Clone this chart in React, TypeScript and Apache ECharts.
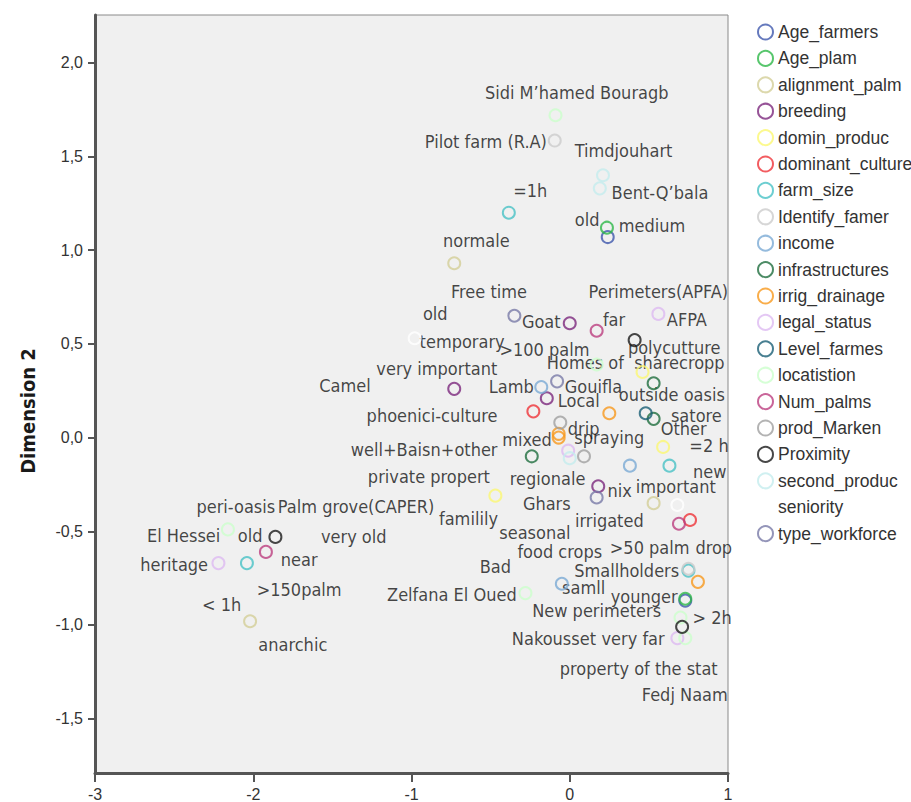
import React, { useEffect, useRef } from "react";
import * as echarts from "echarts";

const seriesNames = [
  "Age_farmers", "Age_plam", "alignment_palm", "breeding", "domin_produc",
  "dominant_culture", "farm_size", "Identify_famer", "income", "infrastructures",
  "irrig_drainage", "legal_status", "Level_farmes", "locatistion", "Num_palms",
  "prod_Marken", "Proximity", "second_produc", "seniority", "type_workforce",
];

const seriesColors = [
  "#3E58AC", "#2EB848", "#D3CE97", "#7C287D", "#FBF873",
  "#EF3338", "#48C2C5", "#CCCCCC", "#7AAAD5", "#1F6E3E",
  "#F8981D", "#DDBAF1", "#1A5F76", "#CCFFCC", "#BB3F7F",
  "#A0A0A0", "#1A1A1A", "#C4ECEE", "#FFFFFF", "#797AA7",
];

const ageFarmers = [[0.24, 1.07], [0.73, -0.87]];
const agePlam = [[0.235, 1.12], [0.73, -0.86]];
const alignmentPalm = [[-0.73, 0.93], [0.53, -0.35], [-2.02, -0.98]];
const breeding = [[0.0, 0.61], [-0.73, 0.26], [-0.145, 0.21], [0.18, -0.26]];
const dominProduc = [[0.46, 0.35], [0.59, -0.05], [-0.47, -0.31]];
const dominantCulture = [[-0.23, 0.14], [0.76, -0.44]];
const farmSize = [[-0.385, 1.2], [0.63, -0.15], [-2.04, -0.67], [0.75, -0.71]];
const identifyFamer = [[-0.095, 1.585], [0.75, -0.7]];
const income = [[-0.18, 0.27], [0.38, -0.15], [-0.05, -0.78]];
const infrastructures = [[0.53, 0.29], [0.53, 0.1], [-0.24, -0.1]];
const irrigDrainage = [[0.25, 0.13], [-0.07, 0.02], [-0.07, 0.0], [0.81, -0.77]];
const legalStatus = [[0.56, 0.66], [-0.01, -0.07], [-2.22, -0.67], [0.68, -1.07]];
const levelFarmes = [[0.48, 0.13]];
const locatistion = [[-0.09, 1.72], [0.17, 0.39], [-2.16, -0.49], [-0.28, -0.83], [0.7, -0.96], [0.73, -1.07]];
const numPalms = [[0.17, 0.57], [-1.92, -0.61], [0.69, -0.46]];
const prodMarken = [[-0.06, 0.08], [0.09, -0.1]];
const proximity = [[0.41, 0.52], [-1.86, -0.53], [0.71, -1.01]];
const secondProduc = [[0.21, 1.4], [0.19, 1.33], [0.0, -0.11]];
const seniority = [[-0.98, 0.53], [0.68, -0.36]];
const typeWorkforce = [[-0.35, 0.65], [-0.08, 0.3], [0.17, -0.32]];

const pointSets = [
  ageFarmers, agePlam, alignmentPalm, breeding, dominProduc,
  dominantCulture, farmSize, identifyFamer, income, infrastructures,
  irrigDrainage, legalStatus, levelFarmes, locatistion, numPalms,
  prodMarken, proximity, secondProduc, seniority, typeWorkforce,
];

// category label texts with their anchor (centre) in dimension units
const pointLabels: [string, number, number][] = [
  ["Sidi M\u2019hamed Bouragb", 0.044, 1.84],
  ["Pilot farm (R.A)", -0.53, 1.58],
  ["Timdjouhart", 0.34, 1.53],
  ["=1h", -0.25, 1.32],
  ["Bent-Q\u2019bala", 0.57, 1.31],
  ["old", 0.11, 1.165],
  ["medium", 0.52, 1.13],
  ["normale", -0.59, 1.05],
  ["Free time", -0.51, 0.78],
  ["Perimeters(APFA)", 0.56, 0.78],
  ["old", -0.85, 0.66],
  ["Goat", -0.18, 0.62],
  ["far", 0.28, 0.63],
  ["AFPA", 0.74, 0.63],
  ["temporary", -0.68, 0.51],
  [">100 palm", -0.16, 0.47],
  ["polycutture", 0.66, 0.48],
  ["Homes of  sharecropp", 0.417, 0.4],
  ["very important", -0.84, 0.37],
  ["Camel", -1.42, 0.28],
  ["Lamb", -0.37, 0.27],
  ["Gouifla", 0.15, 0.27],
  ["Local", 0.057, 0.2],
  ["outside oasis", 0.645, 0.23],
  ["phoenici-culture", -0.87, 0.12],
  ["satore", 0.8, 0.12],
  ["drip", 0.088, 0.05],
  ["Other", 0.72, 0.05],
  ["mixed", -0.27, -0.01],
  ["spraying", 0.25, 0.0],
  ["=2 h", 0.88, -0.04],
  ["well+Baisn+other", -0.92, -0.064],
  ["new", 0.885, -0.18],
  ["private propert", -0.89, -0.21],
  ["regionale", -0.14, -0.22],
  ["nix", 0.316, -0.28],
  ["important", 0.67, -0.26],
  ["peri-oasis", -2.11, -0.37],
  ["Palm grove(CAPER)", -1.35, -0.37],
  ["Ghars", -0.145, -0.35],
  ["familily", -0.64, -0.43],
  ["irrigated", 0.25, -0.44],
  ["seasonal", -0.22, -0.505],
  ["El Hessei", -2.44, -0.52],
  ["old", -2.02, -0.52],
  ["very old", -1.365, -0.53],
  [">50 palm", 0.505, -0.585],
  ["drop", 0.91, -0.585],
  ["food crops", -0.063, -0.61],
  ["near", -1.71, -0.65],
  ["heritage", -2.5, -0.68],
  ["Bad", -0.47, -0.69],
  ["Smallholders", 0.36, -0.71],
  ["samll", 0.088, -0.8],
  [">150palm", -1.71, -0.81],
  ["Zelfana El Oued", -0.745, -0.835],
  ["younger", 0.47, -0.85],
  ["< 1h", -2.2, -0.89],
  ["New perimeters", 0.17, -0.925],
  ["> 2h", 0.9, -0.96],
  ["Nakousset", -0.1, -1.07],
  ["very far", 0.4, -1.07],
  ["anarchic", -1.75, -1.106],
  ["property of the stat", 0.436, -1.23],
  ["Fedj Naam", 0.727, -1.37],
];

const xMin = -3;
const xMax = 1;
const yMin = -1.79;
const yMax = 2.255;

export default function App() {
  const ref = useRef<HTMLDivElement>(null);
  useEffect(() => {
    document.body.style.margin = "0";
    const chart = echarts.init(ref.current!, null, { renderer: "svg" });
    const series: any[] = seriesNames.map((name, i) => ({
      name,
      type: "scatter",
      data: pointSets[i],
      symbol: "circle",
      symbolSize: 12,
      itemStyle: { color: "transparent", borderColor: seriesColors[i], borderWidth: 2 },
      emphasis: { disabled: true },
      z: 3,
    }));
    series.push({
      name: "labels",
      type: "scatter",
      data: pointLabels.map(([t, x, y]) => ({ name: t, value: [x, y] })),
      symbolSize: 0,
      silent: true,
      z: 2,
      label: {
        show: true,
        position: "inside",
        formatter: "{b}",
        align: "center",
        verticalAlign: "middle",
        color: "#161616",
        fontSize: 18,
        fontFamily: "'DejaVu Sans Condensed', 'DejaVu Sans', sans-serif",
      },
    });
    chart.setOption({
      animation: false,
      backgroundColor: "#ffffff",
      grid: {
        left: 95,
        right: 183,
        top: 15,
        bottom: 28,
        show: true,
        backgroundColor: "#F0F0F0",
        borderColor: "#8a8a8a",
        borderWidth: 1,
      },
      graphic: [
        {
          type: "text",
          x: 28,
          y: 411,
          rotation: Math.PI / 2,
          style: {
            text: "Dimension 2",
            fontSize: 20,
            fontWeight: "bold",
            fill: "#1a1a1a",
            align: "center",
            verticalAlign: "middle",
            fontFamily: "'DejaVu Sans Condensed', 'DejaVu Sans', sans-serif",
          },
        },
      ],
      xAxis: {
        type: "value",
        min: xMin,
        max: xMax,
        interval: 1,
        splitLine: { show: false },
        axisLine: { show: true, onZero: false, lineStyle: { color: "#555", width: 3 } },
        axisTick: { show: true, inside: false, length: 9, lineStyle: { color: "#555", width: 2 } },
        axisLabel: { color: "#333", fontSize: 16, fontFamily: "'Liberation Sans', Arial, sans-serif", margin: 13 },
      },
      yAxis: {
        type: "value",
        min: yMin,
        max: yMax,
        splitNumber: 8,
        splitLine: { show: false },
        axisLine: { show: true, onZero: false, lineStyle: { color: "#555", width: 3 } },
        axisTick: { show: true, inside: false, length: 7, lineStyle: { color: "#555", width: 2 } },
        axisLabel: {
          color: "#333",
          fontSize: 16,
          fontFamily: "'Liberation Sans', Arial, sans-serif",
          margin: 12,
          showMinLabel: false,
          showMaxLabel: false,
          formatter: (v: number) =>
            Math.abs(v * 2 - Math.round(v * 2)) < 1e-6 ? v.toFixed(1).replace(".", ",") : "",
        },
      },
      legend: {
        data: seriesNames,
        orient: "vertical",
        left: 752,
        top: 18,
        itemWidth: 15,
        itemHeight: 15,
        itemGap: 8.4,
        icon: "circle",
        textStyle: {
          fontSize: 17.5,
          lineHeight: 18,
          color: "#333",
          fontFamily: "'Liberation Sans', Arial, sans-serif",
        },
        selectedMode: false,
      },
      tooltip: { show: false },
      series,
    });
    return () => chart.dispose();
  }, []);
  return <div ref={ref} style={{ position: "absolute", left: 0, top: 0, width: 911, height: 802 }} />;
}
